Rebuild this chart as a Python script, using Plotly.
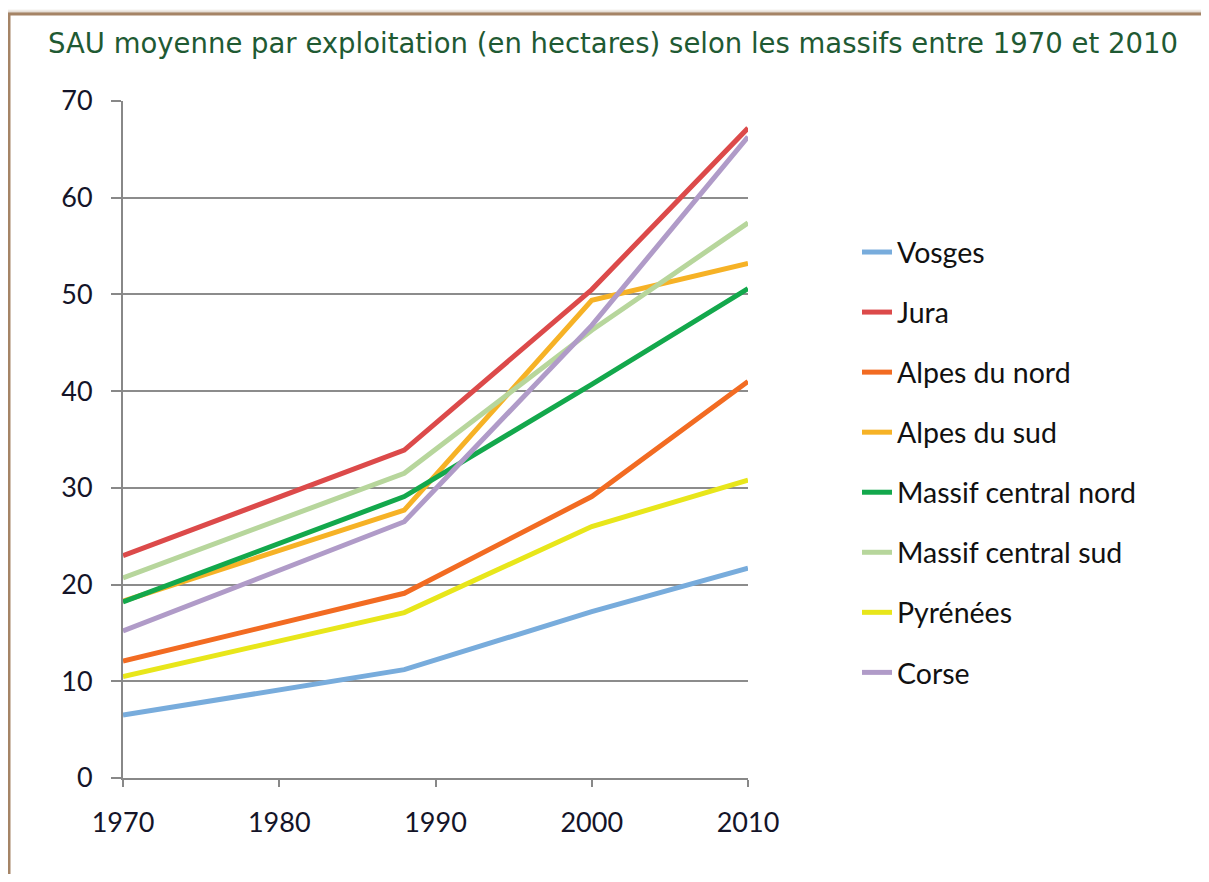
import plotly.graph_objects as go

years = [1970, 1988, 2000, 2010]
series_names = ["Vosges", "Jura", "Alpes du nord", "Alpes du sud",
                "Massif central nord", "Massif central sud", "Pyrénées", "Corse"]
vosges = [6.5, 11.2, 17.2, 21.7]
jura = [23.0, 33.9, 50.5, 67.2]
alpes_nord = [12.1, 19.1, 29.1, 41.0]
alpes_sud = [18.3, 27.7, 49.4, 53.2]
mc_nord = [18.2, 29.1, 40.7, 50.6]
mc_sud = [20.7, 31.5, 46.3, 57.4]
pyrenees = [10.5, 17.1, 26.0, 30.8]
corse = [15.2, 26.5, 46.8, 66.3]
series_values = [vosges, jura, alpes_nord, alpes_sud, mc_nord, mc_sud, pyrenees, corse]
colors = ["#78acdc", "#dc4a4a", "#f26b22", "#f6b226", "#13a84c", "#b7d69c", "#e8e61a", "#b09bc8"]
x_ticks = [1970, 1980, 1990, 2000, 2010]
y_ticks = [0, 10, 20, 30, 40, 50, 60, 70]

# page body has an 8px margin: figure pixel = screen pixel - 8
OFF = 8
W, H = 1209 - 2 * OFF, 882 - 2 * OFF
L, R, T, B = 123 - OFF, 748 - OFF, 101 - OFF, 778 - OFF

fig = go.Figure()
for name, vals, c in zip(series_names, series_values, colors):
    fig.add_trace(go.Scatter(x=years, y=vals, mode="lines", name=name,
                             line=dict(color=c, width=5), legendgroup=name))

def px(sx):
    return (sx - OFF - L) / (R - L)

def py(sy):
    return (B - (sy - OFF)) / (B - T)

shapes = []
# soft shadow around frame
for i, op in enumerate([0.05, 0.09, 0.14, 0.2]):
    off = 4 - i
    shapes.append(dict(type="rect", xref="paper", yref="paper",
                       x0=px(8 - off), x1=px(1240), y0=py(900), y1=py(14 - off),
                       line=dict(color="rgba(140,110,80,%s)" % op, width=2),
                       fillcolor="rgba(0,0,0,0)", layer="below"))
shapes.append(dict(type="rect", xref="paper", yref="paper",
                   x0=px(9), x1=px(1240), y0=py(900), y1=py(14),
                   line=dict(color="#a58466", width=3),
                   fillcolor="rgba(0,0,0,0)", layer="below"))

fig.update_layout(
    width=W, height=H,
    margin=dict(l=L, r=W - R, t=T, b=H - B, pad=0),
    paper_bgcolor="white", plot_bgcolor="white",
    showlegend=True,
    shapes=shapes,
    title=dict(text="SAU moyenne par exploitation (en hectares) selon les massifs entre 1970 et 2010",
               x=(613 - OFF) / W, xref="container", xanchor="center",
               y=1 - (43 - OFF) / H, yref="container", yanchor="middle",
               font=dict(family="DejaVu Sans", size=27.5, color="#1f5a33")),
    legend=dict(x=px(857), y=py(227), xanchor="left", yanchor="top",
                font=dict(family="Lato", size=28.5, color="#111111"),
                tracegroupgap=20, itemwidth=30, bgcolor="rgba(0,0,0,0)",
                traceorder="grouped"),
    xaxis=dict(range=[1970, 2010], tickvals=x_ticks, showgrid=False,
               showline=True, linecolor="#888888", linewidth=2,
               ticks="outside", ticklen=7, tickwidth=2, tickcolor="#888888",
               ticklabelstandoff=13,
               tickfont=dict(family="Lato", size=27, color="#141428"),
               zeroline=False, fixedrange=True),
    yaxis=dict(range=[0, 70], tickvals=y_ticks, showgrid=True,
               gridcolor="#8c8c8c", gridwidth=2,
               showline=True, linecolor="#888888", linewidth=2,
               ticks="outside", ticklen=10, tickwidth=2, tickcolor="#888888",
               ticklabelstandoff=13,
               tickfont=dict(family="Lato", size=27, color="#141428"),
               zeroline=False, fixedrange=True),
)

fig.write_html("out.html")
